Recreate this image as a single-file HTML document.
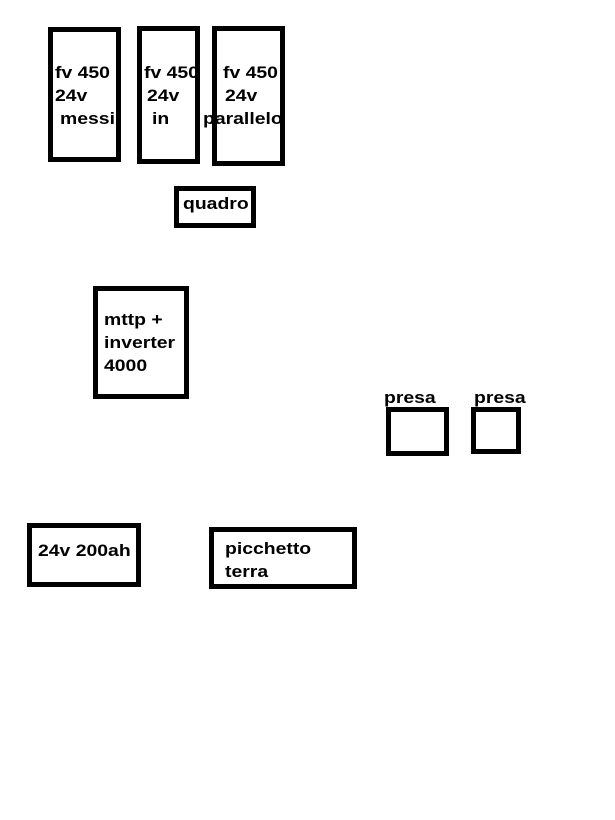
<!DOCTYPE html>
<html><head><style>
body{margin:0;width:615px;height:820px;background:#fff;position:relative;overflow:hidden}
.b{position:absolute;border:5px solid #000;box-sizing:border-box}
.t{position:absolute;font:bold 17px/18px "Liberation Sans",sans-serif;color:#000;white-space:nowrap;transform:scaleX(1.14);transform-origin:0 50%}
</style></head><body>
<div class="b" style="left:48px;top:27px;width:73px;height:135px"></div>
<div class="b" style="left:137px;top:26px;width:63px;height:138px"></div>
<div class="b" style="left:212px;top:26px;width:73px;height:140px"></div>
<div class="b" style="left:174px;top:186px;width:82px;height:42px"></div>
<div class="b" style="left:93px;top:286px;width:96px;height:113px"></div>
<div class="b" style="left:386px;top:407px;width:63px;height:49px"></div>
<div class="b" style="left:471px;top:407px;width:50px;height:47px"></div>
<div class="b" style="left:27px;top:523px;width:114px;height:64px"></div>
<div class="b" style="left:209px;top:527px;width:148px;height:62px"></div>

<div class="t" style="left:55px;top:64px">fv 450</div>
<div class="t" style="left:55px;top:87px">24v</div>
<div class="t" style="left:60px;top:110px">messi</div>
<div class="t" style="left:144px;top:64px">fv 450</div>
<div class="t" style="left:147px;top:87px">24v</div>
<div class="t" style="left:152px;top:110px">in</div>
<div class="t" style="left:223px;top:64px">fv 450</div>
<div class="t" style="left:225px;top:87px">24v</div>
<div class="t" style="left:203px;top:110px">parallelo</div>
<div class="t" style="left:183px;top:195px">quadro</div>
<div class="t" style="left:104px;top:311px">mttp +</div>
<div class="t" style="left:104px;top:334px">inverter</div>
<div class="t" style="left:104px;top:357px">4000</div>
<div class="t" style="left:384px;top:389px">presa</div>
<div class="t" style="left:474px;top:389px">presa</div>
<div class="t" style="left:38px;top:542px">24v 200ah</div>
<div class="t" style="left:225px;top:540px">picchetto</div>
<div class="t" style="left:225px;top:563px">terra</div>
</body></html>
